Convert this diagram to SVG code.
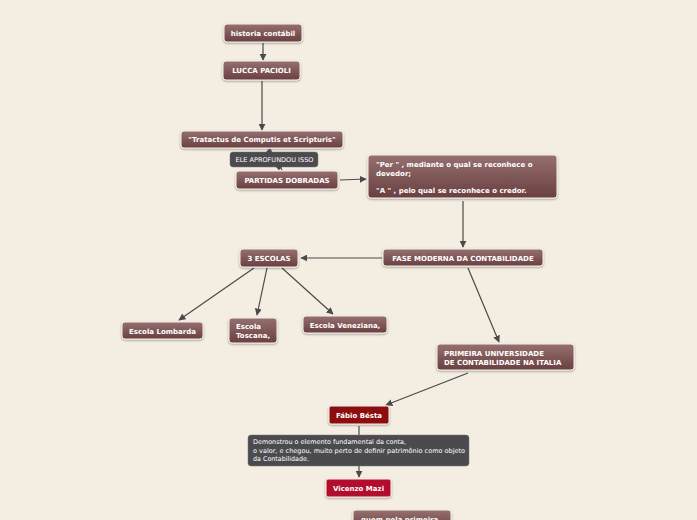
<svg xmlns="http://www.w3.org/2000/svg" width="697" height="520" viewBox="0 0 697 520">
<defs>
<linearGradient id="g" x1="0" y1="0" x2="0" y2="1">
<stop offset="0" stop-color="#967070"/>
<stop offset="1" stop-color="#6a3f40"/>
</linearGradient>
<filter id="sh" x="-10%" y="-20%" width="120%" height="160%">
<feDropShadow dx="0" dy="1" stdDeviation="0.8" flood-color="#000" flood-opacity="0.35"/>
</filter>
<marker id="ah" viewBox="0 0 10 10" refX="9" refY="5" markerWidth="7" markerHeight="7" orient="auto-start-reverse" markerUnits="userSpaceOnUse">
<path d="M0,0 L10,5 L0,10 z" fill="#4a4a4a"/>
</marker>
<style>
.n{fill:url(#g);stroke:#f8f0ea;stroke-width:1;filter:url(#sh)}
.t{font-family:"DejaVu Sans",Verdana,sans-serif;font-weight:bold;font-size:7px;fill:#fff}
.tl{font-family:"DejaVu Sans",Verdana,sans-serif;font-size:6.5px;fill:#fff}
.c{stroke:#4a4a4a;stroke-width:1.2;fill:none;marker-end:url(#ah)}
.d{fill:#4b4b4f;stroke:#777;stroke-width:0.5}
</style>
</defs>
<rect width="697" height="520" fill="#f3ede2"/>
<g id="connectors">
<line class="c" x1="263" y1="43" x2="263" y2="60"/>
<line class="c" x1="262" y1="81" x2="262" y2="130"/>
<line class="c" x1="270" y1="149" x2="282" y2="170" style="marker-end:none"/>
<line class="c" x1="340" y1="180" x2="366" y2="179"/>
<line class="c" x1="463" y1="201" x2="463" y2="247"/>
<line class="c" x1="382" y1="258" x2="301" y2="258"/>
<line class="c" x1="254" y1="268" x2="179" y2="320"/>
<line class="c" x1="267" y1="268" x2="257" y2="315"/>
<line class="c" x1="282" y1="268" x2="333" y2="314"/>
<line class="c" x1="468" y1="268" x2="499" y2="342"/>
<line class="c" x1="468" y1="373" x2="386" y2="405"/>
<line class="c" x1="359" y1="426" x2="359" y2="477"/>
</g>
<g id="label-ele">
<path class="d" d="M233,152 H266 L269,149 L272,152 H315 a3,3 0 0 1 3,3 V164 a3,3 0 0 1 -3,3 H282 L279,170 L276,167 H233 a3,3 0 0 1 -3,-3 V155 a3,3 0 0 1 3,-3 z"/>
<text class="tl" x="235.5" y="162" textLength="78" lengthAdjust="spacingAndGlyphs">ELE APROFUNDOU ISSO</text>
</g>
<g id="n-historia">
<rect class="n" x="224" y="24" width="78" height="18" rx="3"/>
<text class="t" x="263" y="35.5" text-anchor="middle">historia contábil</text>
</g>
<g id="n-lucca">
<rect class="n" x="223" y="61" width="77" height="19" rx="3"/>
<text class="t" x="261.5" y="73" text-anchor="middle">LUCCA PACIOLI</text>
</g>
<g id="n-tratactus">
<rect class="n" x="181" y="131" width="162" height="17" rx="3"/>
<text class="t" x="262" y="142" text-anchor="middle">"Tratactus de Computis et Scripturis"</text>
</g>
<g id="n-partidas">
<rect class="n" x="236" y="171" width="102" height="18" rx="3"/>
<text class="t" x="287" y="183" text-anchor="middle">PARTIDAS DOBRADAS</text>
</g>
<g id="n-per">
<rect class="n" x="368" y="155" width="189" height="43" rx="3"/>
<text class="t" x="376" y="167">"Per " , mediante o qual se reconhece o</text>
<text class="t" x="376" y="176">devedor;</text>
<text class="t" x="376" y="193">"A " , pelo qual se reconhece o credor.</text>
</g>
<g id="n-fase">
<rect class="n" x="383" y="249" width="160" height="17" rx="3"/>
<text class="t" x="463" y="260.5" text-anchor="middle">FASE MODERNA DA CONTABILIDADE</text>
</g>
<g id="n-3escolas">
<rect class="n" x="240" y="249" width="58" height="18" rx="3"/>
<text class="t" x="269" y="261" text-anchor="middle">3 ESCOLAS</text>
</g>
<g id="n-lombarda">
<rect class="n" x="122" y="322" width="81" height="17" rx="3"/>
<text class="t" x="162.5" y="333.5" text-anchor="middle">Escola Lombarda</text>
</g>
<g id="n-toscana">
<rect class="n" x="229" y="318" width="48" height="25" rx="3"/>
<text class="t" x="236" y="329">Escola</text>
<text class="t" x="236" y="338">Toscana,</text>
</g>
<g id="n-veneziana">
<rect class="n" x="303" y="316" width="84" height="17" rx="3"/>
<text class="t" x="345" y="327.5" text-anchor="middle">Escola Veneziana,</text>
</g>
<g id="n-primeira">
<rect class="n" x="437" y="344" width="137" height="26" rx="3"/>
<text class="t" x="444" y="356">PRIMEIRA UNIVERSIDADE</text>
<text class="t" x="444" y="365">DE CONTABILIDADE NA ITALIA</text>
</g>
<g id="n-fabio">
<rect x="329" y="406" width="60" height="18" rx="2" fill="#8c0c0c" stroke="#f8f0ea" stroke-width="1" filter="url(#sh)"/>
<text class="t" x="359" y="418" text-anchor="middle">Fábio Bésta</text>
</g>
<g id="label-demonstrou">
<rect class="d" x="248" y="435" width="221" height="31" rx="3"/>
<text class="tl" x="253" y="444" textLength="153" lengthAdjust="spacingAndGlyphs">Demonstrou o elemento fundamental da conta,</text>
<text class="tl" x="253" y="452.5" textLength="212" lengthAdjust="spacingAndGlyphs">o valor, e chegou, muito perto de definir patrimônio como objeto</text>
<text class="tl" x="253" y="461" textLength="56" lengthAdjust="spacingAndGlyphs">da Contabilidade.</text>
</g>
<g id="n-vicenzo">
<rect x="326" y="479" width="65" height="18" rx="2" fill="#b3112d" stroke="#f8f0ea" stroke-width="1" filter="url(#sh)"/>
<text class="t" x="358.5" y="491" text-anchor="middle">Vicenzo Mazi</text>
</g>
<g id="n-quem">
<rect class="n" x="353" y="510" width="98" height="20" rx="3"/>
<text class="t" x="361" y="522">quem pela primeira</text>
</g>
</svg>
